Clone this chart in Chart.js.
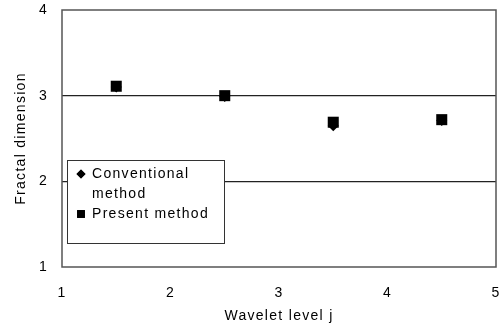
<!DOCTYPE html>
<html>
<head>
<meta charset="utf-8">
<script src="https://cdn.jsdelivr.net/npm/chart.js@4"></script>
<style>
  html, body { margin: 0; padding: 0; background: #fff; }
  #box { width: 504px; height: 326px; }
</style>
</head>
<body>
<div id="box"><canvas id="grafico"></canvas></div>
<script>
// dados
const niveis = [1.5, 2.5, 3.5, 4.5];
const convencional = [3.10, 2.99, 2.65, 2.71];
const presente = [3.11, 3.00, 2.69, 2.72];
const nomesSeries = ['Conventional method', 'Present method'];
const linhasLegenda = [['Conventional', 'method'], ['Present method']];
const ticksX = [1, 2, 3, 4, 5];
const ticksY = [1, 2, 3, 4];

const fonte = 'Liberation Sans, Arial, Helvetica, sans-serif';

// espacamento de letras como no original
const espacamento = {
    id: 'espacamento',
    beforeLayout(chart) { chart.ctx.letterSpacing = '1.3px'; },
    beforeDraw(chart) { chart.ctx.letterSpacing = '1.3px'; }
};

// moldura + legenda dentro da area
const moldura = {
    id: 'moldura',
    afterDatasetsDraw(chart) {
        const ctx = chart.ctx;
        const a = chart.chartArea;
        ctx.save();
        ctx.letterSpacing = '1.3px';
        // legenda
        const lx = a.left + 5, ly = a.top + 150, lw = 157, lh = 83;
        ctx.fillStyle = '#fff';
        ctx.fillRect(lx, ly, lw, lh);
        ctx.strokeStyle = '#333';
        ctx.lineWidth = 1;
        ctx.strokeRect(lx + 0.5, ly + 0.5, lw, lh);
        ctx.fillStyle = '#000';
        ctx.font = '14px ' + fonte;
        ctx.textBaseline = 'middle';
        const estilos = ['rectRot', 'rect'];
        const raios = [4.5, 5.5];
        let y = ly + 14;
        linhasLegenda.forEach((linhas, i) => {
            Chart.helpers.drawPoint(ctx, {pointStyle: estilos[i], radius: raios[i], borderWidth: 0}, lx + 14, y);
            ctx.fillStyle = '#000';
            ctx.fill();
            linhas.forEach(t => {
                ctx.fillText(t, lx + 25, y);
                y += 20;
            });
        });
        // moldura
        ctx.strokeStyle = '#555';
        ctx.lineWidth = 1.5;
        ctx.strokeRect(a.left, a.top, a.right - a.left, a.bottom - a.top);
        ctx.restore();
    }
};

const elementoGrafico = document.getElementById('grafico');

const dados = {
    datasets: [{
        label: nomesSeries[0],
        data: niveis.map((x, i) => ({x: x, y: convencional[i]})),
        pointStyle: 'rectRot',
        pointRadius: 5.5,
        backgroundColor: '#000',
        borderColor: '#000',
        borderWidth: 0
    }, {
        label: nomesSeries[1],
        data: niveis.map((x, i) => ({x: x, y: presente[i]})),
        pointStyle: 'rect',
        pointRadius: 7.8,
        backgroundColor: '#000',
        borderColor: '#000',
        borderWidth: 0
    }]
};

const grafico = new Chart(elementoGrafico, {
    type: 'scatter',
    data: dados,
    plugins: [espacamento, moldura],
    options: {
        responsive: true,
        maintainAspectRatio: false,
        animation: false,
        layout: { padding: { top: 10, right: 8, left: 0, bottom: 0 } },
        plugins: {
            legend: { display: false },
            tooltip: { enabled: false }
        },
        scales: {
            x: {
                type: 'linear',
                min: 1,
                max: 5,
                afterBuildTicks: s => { s.ticks = ticksX.map(v => ({value: v})); },
                afterFit: s => { s.height = 59; s.paddingLeft = 0; s.paddingRight = 0; },
                grid: { drawOnChartArea: false, drawTicks: false },
                border: { display: false },
                ticks: {
                    color: '#000',
                    padding: 18,
                    font: { family: fonte, size: 14 }
                },
                title: {
                    display: true,
                    text: 'Wavelet level j',
                    color: '#000',
                    padding: { top: 0, bottom: 1 },
                    font: { family: fonte, size: 14 }
                }
            },
            y: {
                type: 'linear',
                min: 1,
                max: 4,
                afterBuildTicks: s => { s.ticks = ticksY.map(v => ({value: v})); },
                afterFit: s => { s.width = 62; s.paddingTop = 0; s.paddingBottom = 0; },
                grid: {
                    drawTicks: false,
                    color: ctx => (ctx.tick.value === 2 || ctx.tick.value === 3) ? '#222' : 'rgba(0,0,0,0)',
                    lineWidth: 1.2
                },
                border: { display: false },
                ticks: {
                    color: '#000',
                    padding: 14,
                    font: { family: fonte, size: 14 }
                },
                title: {
                    display: true,
                    text: 'Fractal dimension',
                    color: '#000',
                    padding: { top: 13, bottom: 0 },
                    font: { family: fonte, size: 14 }
                }
            }
        }
    }
});
</script>
</body>
</html>
